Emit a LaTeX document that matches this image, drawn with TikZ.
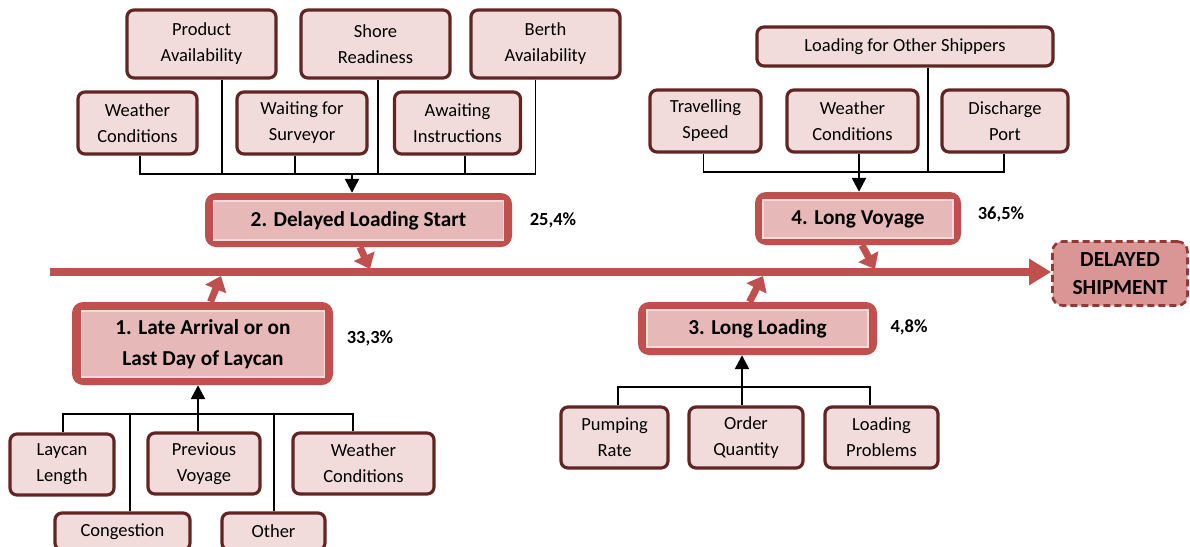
\documentclass[tikz,border=0pt]{standalone}
\usepackage{fontspec}
\setmainfont{Carlito}
\usetikzlibrary{arrows.meta,calc}
\definecolor{cred}{HTML}{C0504D}
\definecolor{dkred}{HTML}{632523}
\definecolor{boxfill}{HTML}{F2DCDB}
\definecolor{pale}{HTML}{F2DCDB}
\definecolor{causefill}{HTML}{E6B9B8}
\definecolor{efffill}{HTML}{D99694}
\definecolor{effline}{HTML}{953735}
\tikzset{
  sbox/.style={draw=dkred, fill=boxfill, line width=3.2, rounded corners=7,
    align=center, inner sep=0, font=\fontsize{18.5}{26}\selectfont},
  cause/.style={fill=cred, rounded corners=11, inner sep=0},
  causein/.style={fill=causefill, draw=pale, line width=1.6, inner sep=0,
    align=center, font=\bfseries\fontsize{21.3}{31}\selectfont},
  effect/.style={draw=effline, fill=efffill, line width=2.6, dash pattern=on 7pt off 4pt,
    rounded corners=10, inner sep=0, align=center, font=\bfseries\fontsize{21.5}{28.5}\selectfont},
  conn/.style={black, line width=1.6},
  up/.style={black, line width=2.4, -{Triangle[length=14,width=14]}},
  rib/.style={cred, line width=7, -{Triangle[length=14,width=22]}},
  spine/.style={cred, line width=8, -{Triangle[length=22,width=25]}},
  pct/.style={font=\bfseries\fontsize{18.5}{22}\selectfont}
}
\begin{document}
\begin{tikzpicture}[x=1pt,y=-1pt]
\useasboundingbox (0,0) rectangle (1190,546);

% ---- effect and spine
\node[effect, minimum width=135, minimum height=64] (eff) at (1120,273.5) {DELAYED\\SHIPMENT};
\coordinate (spL) at (50,272);
\draw[spine] (spL) -- (spL -| eff.west);

% ---- main causes
\node[cause, minimum width=307, minimum height=54] (c2) at (358.5,220) {};
\node[causein, minimum width=290, minimum height=39] (c2t) at (358.5,220.5) {2. Delayed Loading Start};
\node[pct] (p2) at (553,220) {25,4\%};

\node[cause, minimum width=206, minimum height=53] (c4) at (858,218.5) {};
\node[causein, minimum width=190, minimum height=38] (c4t) at (858,219) {4. Long Voyage};
\node[pct] (p4) at (1001,214) {36,5\%};

\node[cause, minimum width=261, minimum height=83] (c1) at (202.5,343.5) {};
\node[causein, minimum width=243, minimum height=66] (c1t) at (203,344) {1. Late Arrival or on\\Last Day of Laycan};
\node[pct] (p1) at (370,338) {33,3\%};

\node[cause, minimum width=239, minimum height=53] (c3) at (757.5,328.5) {};
\node[causein, minimum width=221, minimum height=37] (c3t) at (757.5,328.5) {3. Long Loading};
\node[pct] (p3) at (909,327) {4,8\%};

% ---- ribs into the spine
\coordinate (s2) at (370,269);
\coordinate (s4) at (875,269);
\coordinate (s1) at (221,276);
\coordinate (s3) at (763,276);
\draw[rib] ($(c2.south)+(1.5,0)$) -- (s2);
\draw[rib] ($(c4.south)+(4,0)$) -- (s4);
\draw[rib] ($(c1.north)+(8,0)$) -- (s1);
\draw[rib] ($(c3.north)+(-8,0)$) -- (s3);

% ---- sub-causes of 2
\node[sbox, minimum width=149, minimum height=68] (prod) at (201.5,44) {Product\\Availability};
\node[sbox, minimum width=149, minimum height=68] (shore) at (375.5,44) {Shore\\Readiness};
\node[sbox, minimum width=149, minimum height=68] (berth) at (545.5,44) {Berth\\Availability};
\node[sbox, minimum width=119, minimum height=62] (wc2) at (137.5,123) {Weather\\Conditions};
\node[sbox, minimum width=130, minimum height=62] (surv) at (302,123) {Waiting for\\Surveyor};
\node[sbox, minimum width=126, minimum height=62] (instr) at (457.5,123) {Awaiting\\Instructions};
\coordinate (a2) at (352,174);
\draw[conn] ($(wc2.south)+(2.5,0)$) |- (a2);
\draw[conn] ($(prod.south)+(20.5,0)$) |- (a2);
\draw[conn] ($(surv.south)+(-7,0)$) |- (a2);
\draw[conn] ($(shore.south)+(2.5,0)$) |- (a2);
\draw[conn] ($(instr.south)+(7.5,0)$) |- (a2);
\draw[conn] ($(berth.south)+(-10,0)$) |- (a2);
\draw[up] (a2) -- (a2 |- c2.north);

% ---- sub-causes of 4
\node[sbox, minimum width=296, minimum height=39] (other) at (905,46.5) {Loading for Other Shippers};
\node[sbox, minimum width=111, minimum height=62] (trav) at (705.5,121) {Travelling\\Speed};
\node[sbox, minimum width=131, minimum height=62] (wc4) at (852.5,121) {Weather\\Conditions};
\node[sbox, minimum width=126, minimum height=62] (port) at (1005,121) {Discharge\\Port};
\coordinate (a4) at (859,172);
\draw[conn] ($(trav.south)+(-2,0)$) |- (a4);
\draw[conn] ($(other.south)+(23,0)$) |- (a4);
\draw[conn] ($(port.south)+(-1,0)$) |- (a4);
\draw[up] (wc4.south -| a4) -- (a4 |- c4.north);

% ---- sub-causes of 1
\node[sbox, minimum width=104, minimum height=61] (lay) at (62,464.5) {Laycan\\Length};
\node[sbox, minimum width=135, minimum height=37] (cong) at (122.5,531.5) {Congestion};
\node[sbox, minimum width=112, minimum height=61] (prev) at (204,463.5) {Previous\\Voyage};
\node[sbox, minimum width=103, minimum height=37] (oth) at (273.5,531.5) {Other};
\node[sbox, minimum width=141, minimum height=61] (wc1) at (363.5,463.5) {Weather\\Conditions};
\coordinate (a1) at (198,414);
\draw[conn] ($(lay.north)+(1,0)$) |- (a1);
\draw[conn] ($(cong.north)+(7.5,0)$) |- (a1);
\draw[conn] ($(oth.north)+(0.5,0)$) |- (a1);
\draw[conn] ($(wc1.north)+(-10.5,0)$) |- (a1);
\draw[up] (prev.north -| a1) -- (a1 |- c1.south);

% ---- sub-causes of 3
\node[sbox, minimum width=107, minimum height=61] (pump) at (614.5,437.5) {Pumping\\Rate};
\node[sbox, minimum width=114, minimum height=61] (ord) at (746,437.5) {Order\\Quantity};
\node[sbox, minimum width=113, minimum height=61] (lprob) at (881.5,437.5) {Loading\\Problems};
\coordinate (a3) at (742,387);
\draw[conn] ($(pump.north)+(3.5,0)$) |- (a3);
\draw[conn] ($(lprob.north)+(-11.5,0)$) |- (a3);
\draw[up] (ord.north -| a3) -- (a3 |- c3.south);
\end{tikzpicture}
\end{document}
